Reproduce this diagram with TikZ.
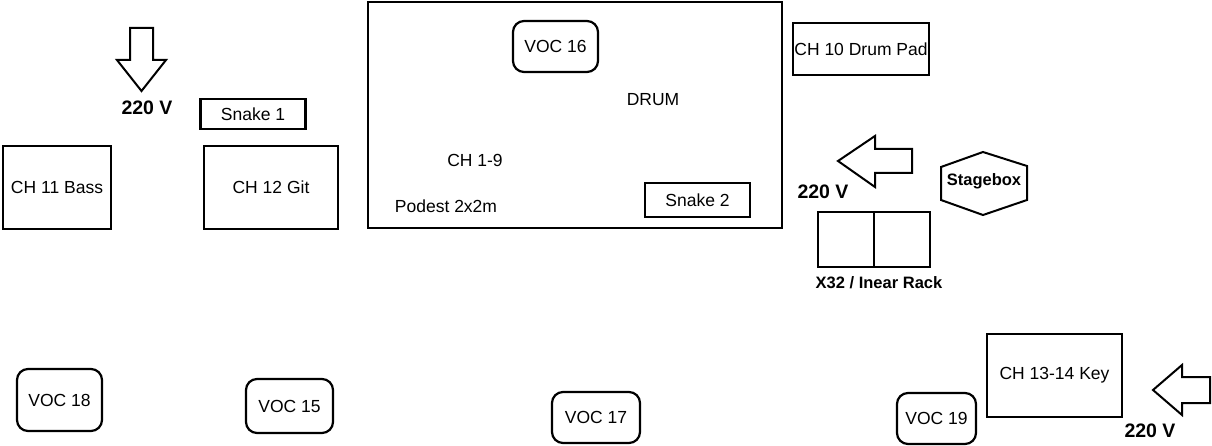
\documentclass[tikz,border=0pt]{standalone}
\usepackage{fontspec}
\setmainfont{Liberation Sans}
\usetikzlibrary{positioning}
\newcommand{\fnorm}{\fontsize{17.5}{20}\selectfont}
\newcommand{\fbold}{\fontsize{16.5}{19}\selectfont\bfseries}
\newcommand{\fvolt}{\fontsize{19.5}{22}\selectfont\bfseries}
\tikzset{
  box/.style={draw, line width=2.6pt, inner sep=0pt, font=\fnorm},
  voc/.style={draw, line width=2.2pt, rounded corners=11pt, inner sep=0pt, font=\fnorm},
  lbl/.style={inner sep=0pt, font=\fnorm},
  volt/.style={inner sep=0pt, font=\fvolt},
  power/.style={draw, line width=2pt, line join=miter},
}
\begin{document}
\begin{tikzpicture}[x=1pt, y=-1pt]
  \useasboundingbox (0,0) rectangle (1212,446);
  % podest with drum
  \node[box, minimum width=414, minimum height=226] (podest) at (575,115) {};
  \node[voc, minimum width=85, minimum height=51] (voc16) at (555.5,46.5) {VOC 16};
  \node[lbl] (drum) at (653,100) {DRUM};
  \node[lbl] (ch19) at (475,160) {CH 1-9};
  \node[lbl] (podestlbl) at (446,206) {Podest 2x2m};
  \node[box, minimum width=105, minimum height=34] (snakeB) at (697.5,200) {Snake 2};
  % left side
  \draw[power] (130,28) -- (153,28) -- (153,60) -- (166,60) -- (141.5,91) -- (117,60) -- (130,60) -- cycle;
  \node[volt] (voltA) at (147,108) {220 V};
  \node[box, minimum width=105, minimum height=30] (snakeA) at (253,114) {Snake 1};
  \node[box, minimum width=108, minimum height=83] (bass) at (57,187.5) {CH 11 Bass};
  \node[box, minimum width=134, minimum height=83] (git) at (271,187.5) {CH 12 Git};
  % right side
  \node[box, minimum width=136, minimum height=52] (drumpad) at (861,49) {CH 10 Drum Pad};
  \draw[power] (838,161) -- (875,136) -- (875,149) -- (912,149) -- (912,173) -- (875,173) -- (875,187) -- cycle;
  \node[volt] (voltB) at (823,192) {220 V};
  \draw[power] (941,167) -- (983,152) -- (1027,166) -- (1027,200) -- (983,215) -- (941,200) -- cycle;
  \node[lbl, font=\fbold] (stagebox) at (984,181) {Stagebox};
  \node[box, minimum width=56, minimum height=55] (rackL) at (846,239.5) {};
  \node[box, minimum width=56, minimum height=55, right=-2.6pt of rackL] (rackR) {};
  \node[lbl, font=\fbold] (racklbl) at (879,283) {X32 / Inear Rack};
  \node[box, minimum width=135, minimum height=83] (key) at (1054.5,375.5) {CH 13-14 Key};
  \draw[power] (1153,390) -- (1182,365) -- (1182,377) -- (1210,377) -- (1210,403) -- (1182,403) -- (1182,415) -- cycle;
  \node[volt] (voltC) at (1150,431) {220 V};
  % vocals in front
  \node[voc, minimum width=85, minimum height=62] (voc18) at (59.5,400) {VOC 18};
  \node[voc, minimum width=87, minimum height=54] (voc15) at (289.5,406) {VOC 15};
  \node[voc, minimum width=88, minimum height=51] (voc17) at (596,417.5) {VOC 17};
  \node[voc, minimum width=79, minimum height=51] (voc19) at (936.5,418.5) {VOC 19};
\end{tikzpicture}
\end{document}
